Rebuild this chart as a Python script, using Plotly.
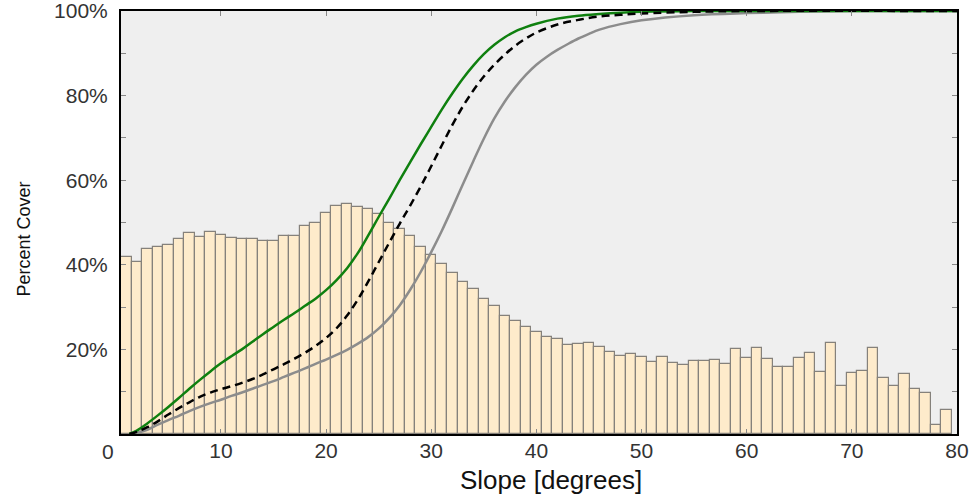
import plotly.graph_objects as go

# ---- data ----
slope_bins = list(range(1, 80))
bin_cover = [41.9, 40.7, 43.7, 44.1, 44.6, 46.0, 47.6, 46.6, 47.7, 47.0,
             46.3, 46.1, 46.1, 45.6, 45.6, 46.9, 46.9, 49.2, 50.0, 52.2,
             54.0, 54.4, 53.7, 53.1, 52.0, 50.0, 48.4, 46.9, 44.3, 42.3,
             40.3, 38.1, 36.0, 34.3, 31.9, 30.3, 28.0, 26.7, 25.4, 24.1,
             22.9, 22.4, 21.0, 21.3, 21.5, 20.6, 19.5, 18.4, 18.9, 18.1,
             17.0, 18.3, 16.8, 16.3, 17.3, 17.3, 17.6, 16.5, 20.0, 18.0,
             20.4, 17.7, 15.9, 15.9, 17.9, 19.2, 14.7, 21.6, 11.4, 14.5,
             15.0, 20.3, 13.3, 11.3, 14.3, 10.6, 9.6, 2.1, 5.7]

green_x = [1.3, 2, 3, 4, 5, 6, 7, 8, 9, 10, 11, 12, 13, 14, 15, 16, 17, 18, 19, 20,
           21, 22, 23, 24, 25, 26, 27, 28, 29, 30, 31, 32, 33, 34, 35, 36, 37, 38, 39, 40,
           42, 44, 46, 48, 50, 55, 80]
green_y = [0, 0.8, 2.5, 4.4, 6.4, 8.5, 10.7, 12.8, 14.8, 16.7, 18.4, 20.0, 21.8, 23.6, 25.3,
           27.0, 28.6, 30.3, 32.0, 34.0, 36.4, 39.2, 42.7, 46.9, 51.3, 55.6, 60.0, 64.3, 68.5,
           72.6, 76.7, 80.5, 84.0, 87.1, 89.8, 92.0, 93.8, 95.2, 96.2, 97.0,
           98.2, 98.9, 99.3, 99.6, 99.8, 100, 100]

dash_x = [1.3, 2, 3, 4, 5, 6, 7, 8, 9, 10, 11, 12, 13, 14, 15, 16, 17, 18, 19, 20,
          21, 22, 23, 24, 25, 26, 27, 28, 29, 30, 31, 32, 33, 34, 35, 36, 37, 38, 39, 40,
          42, 44, 46, 48, 50, 55, 60, 80]
dash_y = [0, 0.5, 1.6, 3.0, 4.6, 6.1, 7.5, 8.8, 9.8, 10.6, 11.3, 12.1, 13.0, 14.1, 15.3,
          16.5, 17.8, 19.2, 20.8, 22.7, 25.0, 28.0, 31.7, 36.0, 40.6, 45.2, 49.7, 54.0, 58.5,
          63.3, 68.2, 73.0, 77.4, 81.2, 84.5, 87.3, 89.7, 91.8, 93.5, 94.9,
          96.8, 97.9, 98.7, 99.1, 99.4, 99.8, 100, 100]

gray_x = [1.3, 2, 3, 4, 5, 6, 7, 8, 9, 10, 11, 12, 13, 14, 15, 16, 17, 18, 19, 20,
          21, 22, 23, 24, 25, 26, 27, 28, 29, 30, 31, 32, 33, 34, 35, 36, 37, 38, 39, 40,
          41, 42, 43, 44, 45, 46, 48, 50, 55, 60, 65, 70, 80]
gray_y = [0, 0.3, 1.0, 2.2, 3.3, 4.3, 5.4, 6.4, 7.3, 8.1, 9.0, 9.8, 10.7, 11.6, 12.5,
          13.5, 14.5, 15.5, 16.6, 17.6, 18.7, 19.9, 21.3, 22.9, 24.9, 27.4, 30.4, 34.1, 38.3,
          43.0, 48.0, 53.4, 59.0, 64.5, 69.8, 74.6, 78.6, 82.0, 84.9, 87.3,
          89.2, 90.8, 92.2, 93.5, 94.6, 95.6, 96.9, 97.8, 99.0, 99.5, 99.8, 100, 100]

y_tick_vals = [10, 20, 30, 40, 50, 60, 70, 80, 90, 100]
y_tick_text = ["", "20%", "", "40%", "", "60%", "", "80%", "", "100%"]
x_tick_vals = [10, 20, 30, 40, 50, 60, 70, 80]
x_tick_text = ["10", "20", "30", "40", "50", "60", "70", "80"]
x_title = "Slope [degrees]"
y_title = "Percent Cover"

FONT = "Liberation Sans, Arial, sans-serif"
TICK_COLOR = "#333"

fig = go.Figure()
fig.add_trace(go.Bar(
    x=slope_bins, y=bin_cover, width=1,
    marker=dict(color="#FEEBCB", line=dict(color="#85817b", width=1.2)),
    showlegend=False, hoverinfo="skip",
))
fig.add_trace(go.Scatter(x=gray_x, y=gray_y, mode="lines",
                         line=dict(color="#8c8c8c", width=2.5, shape="spline", smoothing=1),
                         showlegend=False))
fig.add_trace(go.Scatter(x=green_x, y=green_y, mode="lines",
                         line=dict(color="#0f800f", width=2.5, shape="spline", smoothing=1),
                         showlegend=False))
fig.add_trace(go.Scatter(x=dash_x, y=dash_y, mode="lines",
                         line=dict(color="black", width=2.5, dash="8px,5px", shape="spline", smoothing=1),
                         showlegend=False))

# tick label "0" sits just left of the axis start
fig.add_annotation(x=0, y=0, xref="paper", yref="paper", text="0", showarrow=False,
                   yanchor="top", xanchor="center", yshift=-4, xshift=-13,
                   font=dict(family=FONT, size=21, color=TICK_COLOR))
# axis titles
fig.add_annotation(x=0, y=0.5, xref="paper", yref="paper", text=y_title, showarrow=False,
                   textangle=-90, xanchor="center", yanchor="middle", xshift=-98, yshift=-17,
                   font=dict(family=FONT, size=18, color="#111"))
fig.add_annotation(x=0.5, y=0, xref="paper", yref="paper", text=x_title, showarrow=False,
                   xanchor="center", yanchor="middle", xshift=12, yshift=-46,
                   font=dict(family=FONT, size=26, color="#111"))

fig.update_layout(
    width=974, height=497,
    margin=dict(l=121, r=17, t=11, b=63, autoexpand=False),
    paper_bgcolor="white", plot_bgcolor="#efefef",
    bargap=0,
    xaxis=dict(range=[0.5, 80], showgrid=False, zeroline=False, automargin=False,
               showline=True, linecolor="black", linewidth=2, mirror="ticks",
               ticks="inside", ticklen=5, tickcolor="#888", tickwidth=1,
               tickvals=x_tick_vals, ticktext=x_tick_text, ticklabelstandoff=-3,
               ticklabeloverflow="allow",
               tickfont=dict(family=FONT, size=21, color=TICK_COLOR)),
    yaxis=dict(range=[0, 100], showgrid=False, zeroline=False, automargin=False,
               showline=True, linecolor="black", linewidth=2, mirror="ticks",
               ticks="inside", ticklen=5, tickcolor="#888", tickwidth=1,
               tickvals=y_tick_vals, ticktext=y_tick_text, ticklabelstandoff=7,
               ticklabeloverflow="allow",
               tickfont=dict(family=FONT, size=21, color=TICK_COLOR)),
)

fig.write_html("out.html", config={"displayModeBar": False},
               post_script="document.body.style.margin='0';document.body.style.overflow='hidden';")
